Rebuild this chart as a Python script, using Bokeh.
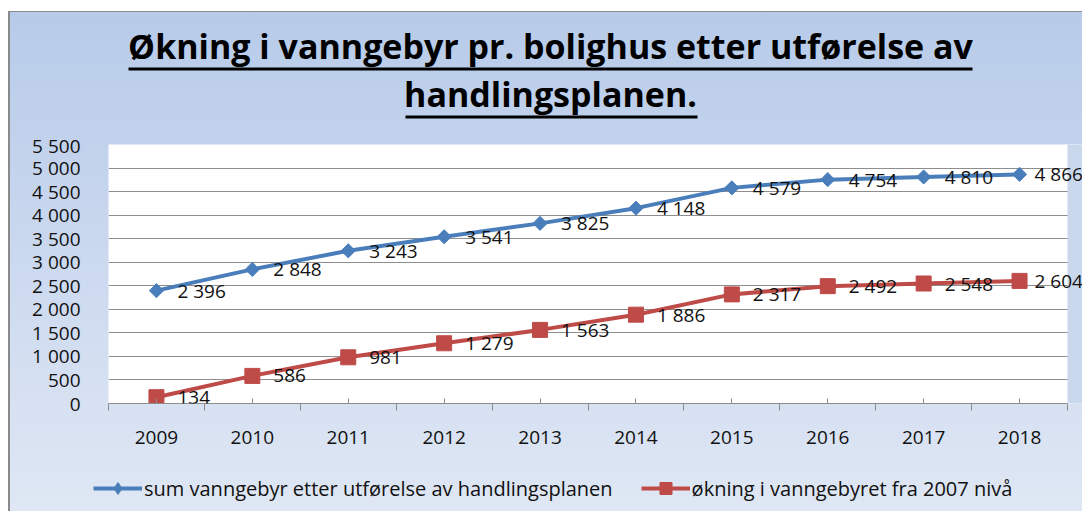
import numpy as np
from bokeh.plotting import figure
from bokeh.layouts import column
from bokeh.models import (ColumnDataSource, FixedTicker, LabelSet, Label, Legend,
                          LegendItem, BoxAnnotation, Range1d)
from bokeh.core.properties import value
from bokeh.embed import file_html
from bokeh.resources import INLINE

# ---------------- data ----------------
years = [2009, 2010, 2011, 2012, 2013, 2014, 2015, 2016, 2017, 2018]
sum_fee = [2396, 2848, 3243, 3541, 3825, 4148, 4579, 4754, 4810, 4866]
increase = [134, 586, 981, 1279, 1563, 1886, 2317, 2492, 2548, 2604]
y_ticks = [0, 500, 1000, 1500, 2000, 2500, 3000, 3500, 4000, 4500, 5000, 5500]
y_tick_labels = ["0", "500", "1 000", "1 500", "2 000", "2 500", "3 000",
                 "3 500", "4 000", "4 500", "5 000", "5 500"]
x_tick_labels = ["2009", "2010", "2011", "2012", "2013", "2014", "2015",
                 "2016", "2017", "2018"]
title_lines = ["Økning i vanngebyr pr. bolighus etter utførelse av",
               "handlingsplanen."]
series_names = ["sum vanngebyr etter utførelse av handlingsplanen",
                "økning i vanngebyret fra 2007 nivå"]

BLUE = "#4a7ebb"
RED = "#be4b48"
GRID = "#8e8e8e"
FONT = "Open Sans"
TXT = "#111111"
W = 1082


def bare(height):
    f = figure(width=W, height=height, x_range=Range1d(0, 1), y_range=Range1d(0, 1),
               x_axis_type=None, y_axis_type=None, min_border=0,
               outline_line_color=None, background_fill_color=None,
               border_fill_color=None, toolbar_location=None,
               output_backend="svg")
    f.frame_align = False
    return f


# ---------------- title ----------------
tf = bare(132)
for txt, yb in zip(title_lines, (87, 39)):
    tf.add_layout(Label(x=550, y=yb, x_units="screen", y_units="screen",
                        text=txt, text_align="center", text_baseline="alphabetic",
                        text_font=FONT, text_font_style="bold",
                        text_font_size="34px", text_color="#000000"))
for l, r, t in ((128, 972, 65), (405, 697, 17)):
    tf.add_layout(BoxAnnotation(left=l, right=r, top=t, bottom=t - 3,
                                left_units="screen", right_units="screen",
                                top_units="screen", bottom_units="screen",
                                fill_color="black", fill_alpha=1, line_color=None))

# ---------------- main chart ----------------
px_per_year = 95.9
x_end = years[-1] + 0.5 + 15 / px_per_year
p = figure(width=W, height=328,
           x_range=Range1d(years[0] - 0.5, x_end),
           y_range=Range1d(y_ticks[0], y_ticks[-1]),
           output_backend="svg", toolbar_location=None,
           min_border_left=108, min_border_right=0,
           min_border_top=12, min_border_bottom=57,
           background_fill_color="white", border_fill_color=None,
           outline_line_color=None)

xa = p.xaxis[0]
xa.ticker = FixedTicker(ticks=years, minor_ticks=[y - 0.5 for y in years] + [years[-1] + 0.5])
xa.bounds = (years[0] - 0.5, years[-1] + 0.5)
xa.major_label_overrides = {y: s for y, s in zip(years, x_tick_labels)}
xa.axis_line_color = GRID
xa.major_tick_line_color = GRID
xa.minor_tick_line_color = GRID
xa.major_tick_in = 5
xa.major_tick_out = 0
xa.minor_tick_in = 0
xa.minor_tick_out = 7
xa.major_label_standoff = 20
xa.major_label_text_font = FONT
xa.major_label_text_font_size = "19px"
xa.major_label_text_color = TXT

ya = p.yaxis[0]
ya.ticker = FixedTicker(ticks=y_ticks)
ya.major_label_overrides = {t: s for t, s in zip(y_ticks, y_tick_labels)}
ya.axis_line_color = None
ya.major_tick_line_color = None
ya.minor_tick_line_color = None
ya.major_tick_out = 0
ya.major_tick_in = 0
ya.minor_tick_out = 0
ya.major_label_standoff = 28
ya.major_label_text_font = FONT
ya.major_label_text_font_size = "19px"
ya.major_label_text_color = TXT

p.xgrid.visible = False
p.ygrid.grid_line_color = GRID
p.ygrid.grid_line_width = 1

r1l = p.line(years, sum_fee, line_color=BLUE, line_width=4)
r1m = p.scatter(years, sum_fee, marker="square", angle=np.pi / 4, size=10,
                fill_color=BLUE, line_color=BLUE)
r2l = p.line(years, increase, line_color=RED, line_width=4)
r2m = p.scatter(years, increase, marker="square", size=15,
                fill_color=RED, line_color=RED)

# strip right of the plot area (chart background)
p.add_layout(BoxAnnotation(left=years[-1] + 0.5, fill_color="#cad8ee",
                           fill_alpha=1, line_color=None))

dx = [21 if y != years[-1] else 15 for y in years]
for vals in (sum_fee, increase):
    src = ColumnDataSource(dict(x=years, y=vals, t=[f"{v:,}".replace(",", " ") for v in vals], dx=dx))
    p.add_layout(LabelSet(x="x", y="y", text="t", source=src,
                          x_offset="dx", y_offset=0,
                          text_align="left", text_baseline="middle",
                          text_font=value(FONT), text_font_size="19px",
                          text_color=TXT))

# ---------------- legend ----------------
lf = bare(51)
g1l = lf.line([np.nan], [np.nan], line_color=BLUE, line_width=4)
g1m = lf.scatter([np.nan], [np.nan], marker="diamond", size=12,
                 fill_color=BLUE, line_color=BLUE)
g2l = lf.line([np.nan], [np.nan], line_color=RED, line_width=4)
g2m = lf.scatter([np.nan], [np.nan], marker="square", size=12,
                 fill_color=RED, line_color=RED)
legend = Legend(items=[LegendItem(label=series_names[0], renderers=[g1l, g1m]),
                       LegendItem(label=series_names[1], renderers=[g2l, g2m])],
                orientation="horizontal", location=(93, 8),
                border_line_color=None, background_fill_alpha=0,
                padding=0, margin=0, spacing=28, glyph_width=49,
                glyph_height=30, label_standoff=2, label_height=20,
                label_text_font=FONT, label_text_font_size="20px",
                label_text_color=TXT)
lf.add_layout(legend)

layout = column(tf, p, lf, spacing=0)
layout.styles = {
    "background": (
        "linear-gradient(to right, #ffffff 0px, #ffffff 8px, #8a8a8a 8px, #8a8a8a 10px, transparent 10px) 0px 11px / 100% 100% no-repeat, "
        "linear-gradient(to bottom, #ffffff 0px, #ffffff 11px, #8a8a8a 11px, #8a8a8a 12px, "
        "#b7cbe9 12px, #c9d7ee 45%, #dfe7f4 100%)"
    )
}

open("out.html", "w").write(file_html(layout, INLINE))
